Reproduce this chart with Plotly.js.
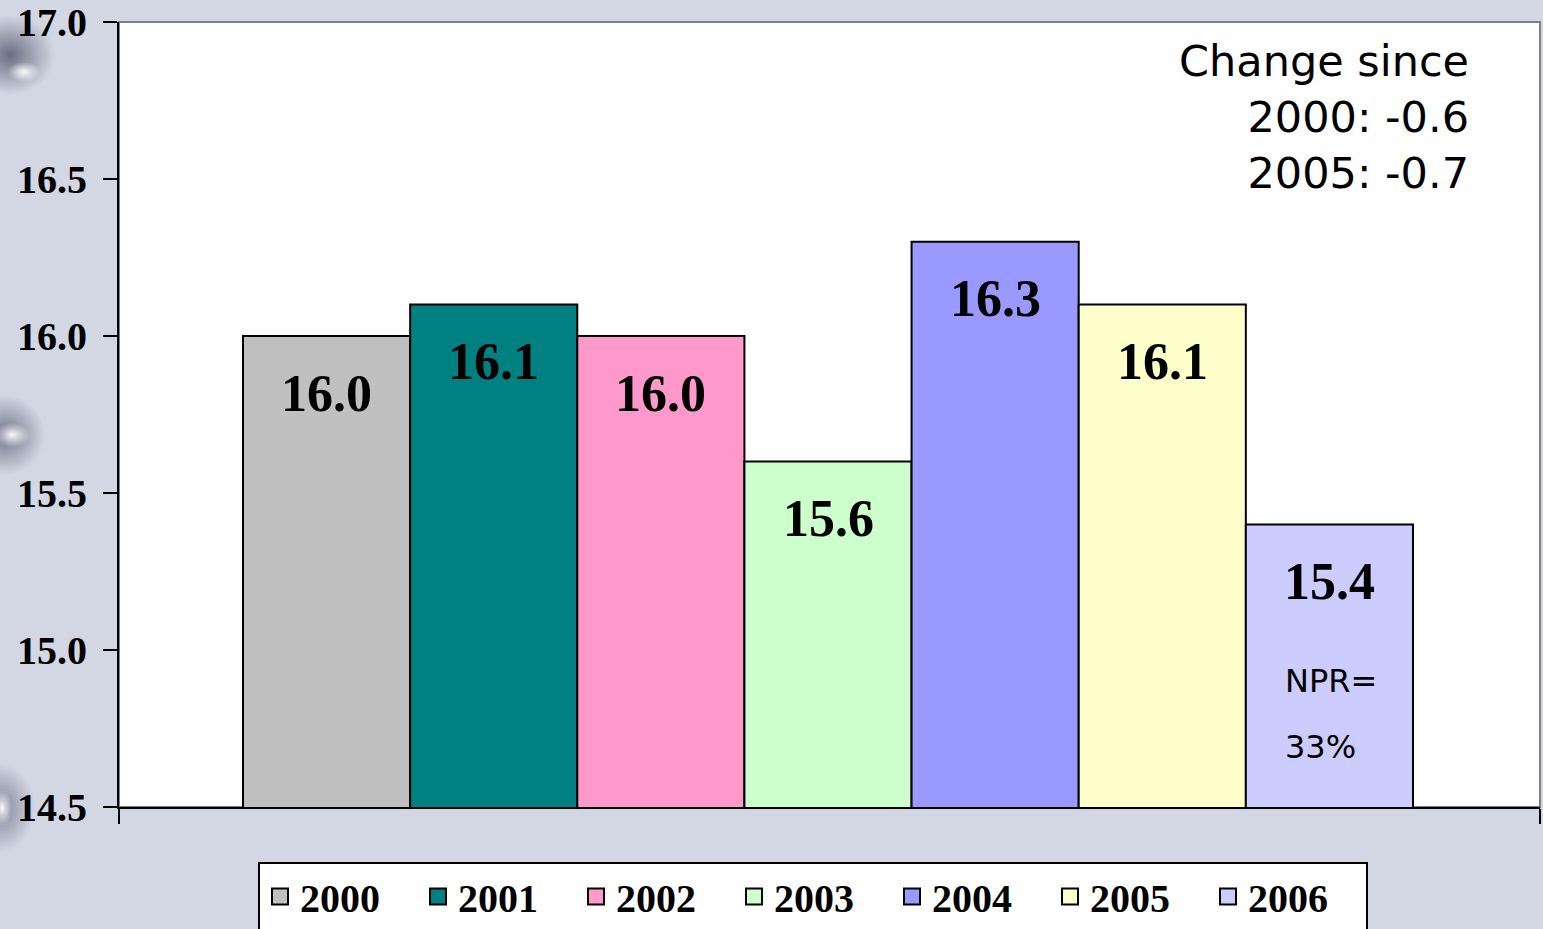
<!DOCTYPE html>
<html>
<head>
<meta charset="utf-8">
<script src="https://cdn.plot.ly/plotly-3.0.1.min.js"></script>
<style>
  html, body { margin: 0; padding: 0; }
  body {
    background:
      radial-gradient(ellipse 16px 10px at 24px 72px, rgba(255,255,255,0.95), rgba(255,255,255,0) 100%),
      radial-gradient(ellipse 45px 40px at 10px 55px, rgba(70,75,100,0.75), rgba(70,75,100,0) 100%),
      radial-gradient(ellipse 18px 12px at 12px 435px, rgba(255,255,255,0.95), rgba(255,255,255,0) 100%),
      radial-gradient(ellipse 40px 40px at 5px 435px, rgba(70,75,100,0.7), rgba(70,75,100,0) 100%),
      radial-gradient(ellipse 10px 18px at 2px 808px, rgba(255,255,255,0.95), rgba(255,255,255,0) 100%),
      radial-gradient(ellipse 35px 45px at 0px 808px, rgba(70,75,100,0.6), rgba(70,75,100,0) 100%),
      #d3d7e3;
  }
  #chart { width: 1543px; height: 929px; }
</style>
</head>
<body>
<div id="chart"></div>
<script>
const years = [2000, 2001, 2002, 2003, 2004, 2005, 2006];
const seriesNames = ['2000', '2001', '2002', '2003', '2004', '2005', '2006'];
const values = [16.0, 16.1, 16.0, 15.6, 16.3, 16.1, 15.4];
const colors = ['#c0c0c0', '#008080', '#ff99cc', '#ccffcc', '#9999ff', '#ffffcc', '#ccccff'];
const yTicks = [14.5, 15.0, 15.5, 16.0, 16.5, 17.0];
const noteLines = ['Change since', '2000: -0.6', '2005: -0.7'];
const nprLabel = 'NPR=';
const nprValue = '33%';

const serif = 'Liberation Serif, Times New Roman, serif';
const sans = 'DejaVu Sans, Verdana, sans-serif';

const xRange = [1998.758, 2007.26];
const traces = years.map((yr, i) => ({
  type: 'bar',
  name: seriesNames[i],
  legendgroup: seriesNames[i],
  showlegend: false,
  x: [yr],
  y: [values[i]],
  width: 1,
  marker: { color: colors[i], line: { color: '#000', width: 2 } },
  hoverinfo: 'name+y'
}));
// legend entries (square swatches like the original)
years.forEach((yr, i) => {
  traces.push({
    type: 'scatter', mode: 'markers',
    name: seriesNames[i], legendgroup: seriesNames[i],
    x: [null], y: [null],
    marker: { symbol: 'square', size: 16, color: colors[i], line: { color: '#000', width: 2 } },
    showlegend: true, hoverinfo: 'skip'
  });
});

const annotations = years.map((yr, i) => ({
  x: yr, y: values[i], xref: 'x', yref: 'y',
  text: values[i].toFixed(1),
  showarrow: false, yanchor: 'middle', yshift: -57,
  font: { family: serif, size: 52, color: '#000', weight: 'bold' }
}));
annotations.push({
  xref: 'paper', yref: 'paper', x: (1471 - 119) / 1421, y: 1 - 12 / 785,
  xanchor: 'right', yanchor: 'top', align: 'right',
  text: noteLines.join('<br>'), showarrow: false,
  font: { family: sans, size: 43, color: '#000' }
});
annotations.push({
  x: years[6], y: 14.9, xref: 'x', yref: 'y', xanchor: 'left', xshift: -46,
  text: nprLabel, showarrow: false, font: { family: sans, size: 32, color: '#000' }
});
annotations.push({
  x: years[6], y: 14.69, xref: 'x', yref: 'y', xanchor: 'left', xshift: -46,
  text: nprValue, showarrow: false, font: { family: sans, size: 32, color: '#000' }
});

const layout = {
  width: 1543, height: 929,
  margin: { l: 119, r: 3, t: 22, b: 122, pad: 0 },
  paper_bgcolor: 'rgba(0,0,0,0)',
  plot_bgcolor: '#ffffff',
  barmode: 'overlay',
  showlegend: true,
  xaxis: {
    type: 'linear', range: xRange,
    tickvals: xRange, ticktext: ['', ''],
    ticks: 'outside', ticklen: 15, tickwidth: 2, tickcolor: '#000',
    showline: true, linecolor: '#000', linewidth: 2,
    showgrid: false, zeroline: false, fixedrange: true
  },
  yaxis: {
    range: [14.5, 17.0], tickvals: yTicks, ticktext: yTicks.map(v => v.toFixed(1)),
    ticks: 'outside', ticklen: 14, tickwidth: 2, tickcolor: '#000',
    ticklabelstandoff: 8,
    showline: true, linecolor: '#000', linewidth: 2,
    showgrid: false, zeroline: false,
    tickfont: { family: serif, size: 40, color: '#000', weight: 'bold' }
  },
  legend: {
    orientation: 'h', xref: 'paper', x: (813 - 119) / 1421, xanchor: 'center',
    yref: 'container', y: (929 - 862) / 929, yanchor: 'top',
    bgcolor: '#ffffff', bordercolor: '#000', borderwidth: 2,
    font: { family: serif, size: 40, color: '#000', weight: 'bold' },
    entrywidth: 113, itemwidth: 30,
    traceorder: 'normal'
  },
  shapes: [{
    type: 'rect', xref: 'paper', yref: 'paper', x0: 0, x1: 1, y0: 0, y1: 1,
    line: { color: '#808080', width: 2 }, layer: 'below'
  }],
  annotations: annotations
};

Plotly.newPlot('chart', traces, layout, { displayModeBar: false, staticPlot: true });
</script>
</body>
</html>
